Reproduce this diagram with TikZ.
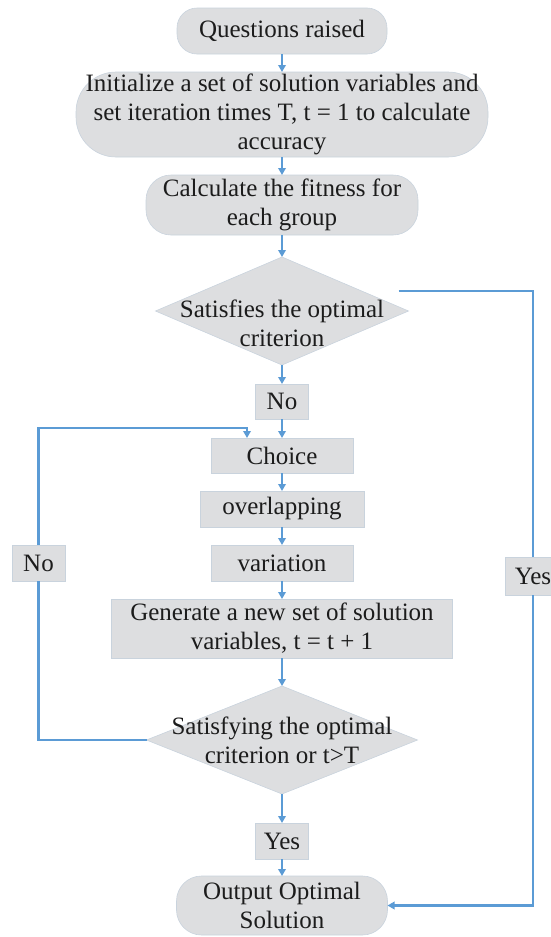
\documentclass[tikz,border=0pt]{standalone}
\usepackage{fontspec}
\setmainfont{Liberation Serif}
\usetikzlibrary{positioning,shapes.geometric,arrows.meta}
\definecolor{BoxGray}{HTML}{DDDEE0}
\definecolor{EdgeGray}{HTML}{C9D3DD}
\definecolor{FlowBlue}{HTML}{5B9BD5}
\definecolor{TextBlack}{HTML}{1C1C1C}

\begin{document}
\begin{tikzpicture}[x=1pt, y=1pt, node distance=18pt, every node/.style={font=\fontsize{25}{29}\selectfont, text=TextBlack}]
  \tikzstyle{terminal}=[rectangle, rounded corners=20pt, draw=EdgeGray, fill=BoxGray, line width=0.6pt,
  align=center, inner sep=0pt, outer sep=0pt]
  \tikzstyle{process}=[rectangle, draw=EdgeGray, fill=BoxGray, line width=0.6pt, align=center, inner sep=0pt,
  outer sep=0pt]
  \tikzstyle{decision}=[diamond, draw=EdgeGray, fill=BoxGray, line width=0.6pt, inner sep=0pt, outer sep=0pt,
  minimum height=108pt]
  \tikzstyle{flow}=[line width=2.2pt, color=FlowBlue]
  \tikzstyle{arrow}=[flow, -{Triangle[length=7pt,width=7.5pt]}]
  \useasboundingbox (0,0) rectangle (551,-937);
  \node[terminal, minimum width=210pt, minimum height=46pt] (q) at (282,-31) {Questions raised};
  \node[terminal, rounded corners=40pt, minimum width=412pt, minimum height=85pt, below=of q] (init)
  {Initialize a set of solution variables and\\set iteration times T, t = 1 to calculate\\accuracy};
  \node[terminal, rounded corners=25pt, minimum width=272pt, minimum height=60pt, below=of init] (calc)
  {Calculate the fitness for\\each group};
  \node[decision, minimum width=253pt, below=22pt of calc,
  label={[align=center, yshift=-12pt]center:{Satisfies the optimal\\criterion}}] (d1) {};
  \node[process, minimum width=53pt, minimum height=35pt, below=19pt of d1] (no1) {No};
  \node[process, minimum width=142pt, minimum height=35pt, below=19pt of no1] (choice) {Choice};
  \node[process, minimum width=164pt, minimum height=36pt, below=of choice] (overl) {overlapping};
  \node[process, minimum width=142pt, minimum height=36pt, below=of overl] (varia) {variation};
  \node[process, minimum width=341pt, minimum height=59pt, below=of varia] (gen)
  {Generate a new set of solution\\variables, t = t + 1};
  \node[decision, minimum width=271pt, below=28pt of gen,
  label={[align=center]center:{Satisfying the optimal\\criterion or t>T}}] (d2) {};
  \node[process, minimum width=53pt, minimum height=36pt, below=29pt of d2] (yes2) {Yes};
  \node[terminal, rounded corners=25pt, minimum width=211pt, minimum height=59pt, below=17pt of yes2] (out)
  {Output Optimal\\Solution};
  \node[process, minimum width=53pt, minimum height=36pt, left=146pt of varia] (noL) {No};
  \node[process, minimum width=56pt, minimum height=38pt] (yesR) at (533,-576) {Yes};
  % main flow
  \draw[arrow] (q) -- (init);
  \draw[arrow] (init) -- (calc);
  \draw[arrow] (calc) -- (d1);
  \draw[arrow] (d1) -- (no1);
  \draw[arrow] (no1) -- (choice);
  \draw[arrow] (choice) -- (overl);
  \draw[arrow] (overl) -- (varia);
  \draw[arrow] (varia) -- (gen);
  \draw[arrow] (gen) -- (d2);
  \draw[arrow] (d2) -- (yes2);
  \draw[arrow] (yes2) -- (out);
  % loops
  \coordinate (yesstart) at ([xshift=-10pt, yshift=20pt]d1.east);
  \coordinate (backtop) at ([xshift=-35pt, yshift=10pt]choice.north);
  \draw[flow] (yesstart) -| (yesR);
  \draw[arrow] (yesR) |- (out);
  \draw[flow] (d2.west) -| (noL);
  \draw[arrow] (noL) |- (backtop) -- (choice.north -| backtop);
\end{tikzpicture}
\end{document}
